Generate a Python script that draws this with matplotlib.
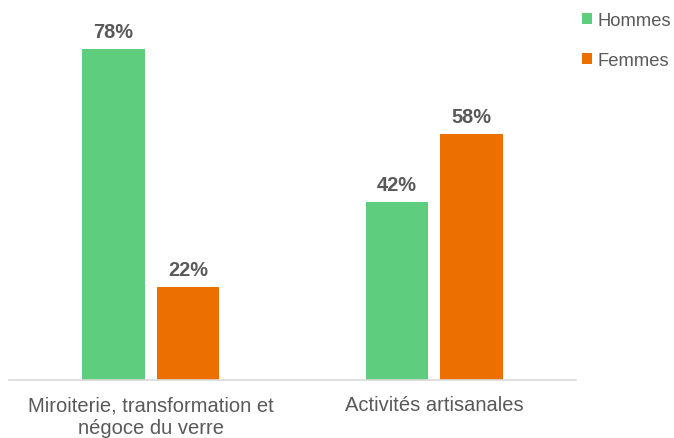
import matplotlib.pyplot as plt
import numpy as np

plt.rcParams['font.family'] = ['Liberation Sans', 'DejaVu Sans']

categories = ['Miroiterie, transformation et\nnégoce du verre', 'Activités artisanales']
hommes = [78, 42]
femmes = [22, 58]
series_names = ['Hommes', 'Femmes']
colors = ['#5ECE7E', '#EC7000']
text_gray = '#595959'

fig = plt.figure(figsize=(6.74, 4.39), dpi=100)
ax = fig.add_axes([0.01335, 0.131, 0.8412, 0.8235])

x = np.arange(len(categories))
w = 0.221
off = 0.131
b1 = ax.bar(x - off, hommes, w, color=colors[0], label=series_names[0])
b2 = ax.bar(x + off, femmes, w, color=colors[1], label=series_names[1])

for bars, vals in ((b1, hommes), (b2, femmes)):
    for r, v in zip(bars, vals):
        ax.text(r.get_x() + r.get_width() / 2, v + 1.8, f'{v}%', ha='center', va='bottom',
                fontsize=14.4, fontweight='bold', color=text_gray)

ax.set_xlim(-0.5, 1.5)
ax.set_ylim(0, 85.06)
ax.set_xticks(x)
ax.set_xticklabels(categories, fontsize=14.5, color=text_gray, linespacing=1.25)
ax.tick_params(axis='x', length=0, pad=10.5)
ax.set_yticks([])
for s in ['top', 'right', 'left']:
    ax.spines[s].set_visible(False)
ax.spines['bottom'].set_color('#D9D9D9')
ax.spines['bottom'].set_linewidth(1.2)

leg = fig.legend(handles=[b1, b2], loc='upper left', bbox_to_anchor=(582 / 674, 1 - 13 / 439),
                 frameon=False, fontsize=13.2, handlelength=0.55, handleheight=0.55,
                 handletextpad=0.3, labelspacing=1.26, borderpad=0, borderaxespad=0)
for t in leg.get_texts():
    t.set_color(text_gray)

fig.savefig('out.png', dpi=100)
